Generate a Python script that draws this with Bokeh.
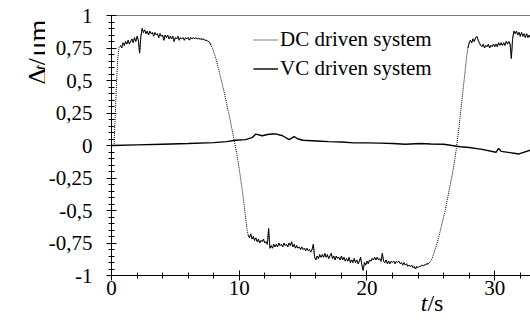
import math
from bokeh.plotting import figure
from bokeh.layouts import row
from bokeh.models import (FixedTicker, CustomJSTickFormatter, Span, LinearAxis,
                          Legend, LegendItem, Range1d, ColumnDataSource)
from bokeh.core.properties import value
from bokeh.embed import file_html
from bokeh.resources import INLINE

# ---------------- data ----------------
# DC driven system, sampled every 0.1 s from t = 0
dc_values = [
    0.0, 0.0, 0.0, 0.25, 0.50, 0.68, 0.76, 0.77, 0.75, 0.79,            # 0
    0.77, 0.80, 0.78, 0.81, 0.78, 0.80, 0.82, 0.79, 0.83, 0.80,         # 1
    0.84, 0.81, 0.71, 0.84, 0.90, 0.87, 0.89, 0.86, 0.88, 0.85,         # 2
    0.88, 0.86, 0.87, 0.84, 0.87, 0.85, 0.86, 0.83, 0.86, 0.84,         # 3
    0.85, 0.81, 0.85, 0.83, 0.85, 0.82, 0.84, 0.82, 0.84, 0.80,         # 4
    0.83, 0.82, 0.84, 0.81, 0.83, 0.82, 0.83, 0.81, 0.83, 0.82,         # 5
    0.83, 0.81, 0.83, 0.82, 0.83, 0.82, 0.83, 0.82, 0.825, 0.82,        # 6
    0.82, 0.815, 0.82, 0.81, 0.81, 0.805, 0.80, 0.79, 0.77, 0.75,       # 7
    0.72, 0.69, 0.66, 0.62, 0.58, 0.54, 0.50, 0.46, 0.42, 0.37,         # 8
    0.33, 0.28, 0.24, 0.19, 0.14, 0.09, 0.04, -0.01, -0.06, -0.12,      # 9
    -0.18, -0.25, -0.32, -0.39, -0.47, -0.56, -0.64, -0.69, -0.71, -0.68,   # 10
    -0.72, -0.70, -0.73, -0.71, -0.74, -0.72, -0.75, -0.73, -0.74, -0.72,   # 11
    -0.75, -0.74, -0.76, -0.64, -0.79, -0.77, -0.79, -0.76, -0.78, -0.76,   # 12
    -0.78, -0.75, -0.77, -0.76, -0.78, -0.75, -0.77, -0.76, -0.78, -0.75,   # 13
    -0.77, -0.74, -0.78, -0.76, -0.79, -0.77, -0.79, -0.78, -0.80, -0.78,   # 14
    -0.80, -0.79, -0.81, -0.79, -0.81, -0.80, -0.82, -0.80, -0.76, -0.86,   # 15
    -0.88, -0.85, -0.87, -0.84, -0.86, -0.84, -0.86, -0.83, -0.86, -0.84,   # 16
    -0.87, -0.85, -0.83, -0.87, -0.85, -0.88, -0.85, -0.87, -0.86, -0.88,   # 17
    -0.85, -0.88, -0.86, -0.89, -0.87, -0.89, -0.86, -0.90, -0.88, -0.90,   # 18
    -0.87, -0.90, -0.88, -0.91, -0.89, -0.86, -0.92, -0.96, -0.90, -0.92,   # 19
    -0.89, -0.91, -0.88, -0.89, -0.87, -0.88, -0.86, -0.88, -0.86, -0.88,   # 20
    -0.87, -0.89, -0.83, -0.89, -0.90, -0.88, -0.91, -0.89, -0.91, -0.89,   # 21
    -0.90, -0.89, -0.91, -0.89, -0.90, -0.89, -0.91, -0.90, -0.92, -0.90,   # 22
    -0.92, -0.91, -0.93, -0.92, -0.93, -0.92, -0.94, -0.93, -0.95, -0.93,   # 23
    -0.94, -0.93, -0.93, -0.92, -0.925, -0.92, -0.915, -0.91, -0.91, -0.90, # 24
    -0.89, -0.87, -0.84, -0.81, -0.78, -0.75, -0.71, -0.67, -0.63, -0.59,   # 25
    -0.55, -0.51, -0.46, -0.41, -0.36, -0.31, -0.26, -0.21, -0.15, -0.09,   # 26
    -0.02, 0.06, 0.14, 0.23, 0.32, 0.41, 0.50, 0.59, 0.68, 0.75,        # 27
    0.79, 0.81, 0.79, 0.82, 0.80, 0.83, 0.84, 0.81, 0.79, 0.77,         # 28
    0.76, 0.78, 0.75, 0.77, 0.76, 0.78, 0.75, 0.77, 0.76, 0.78,         # 29
    0.76, 0.78, 0.76, 0.79, 0.77, 0.79, 0.77, 0.79, 0.77, 0.80,         # 30
    0.78, 0.80, 0.78, 0.67, 0.82, 0.88, 0.86, 0.88, 0.85, 0.87,         # 31
    0.84, 0.87, 0.84, 0.86, 0.83, 0.86, 0.83, 0.85, 0.83,               # 32
]
dc_step = 0.1
dc_time = [round(i * dc_step, 1) for i in range(len(dc_values))]
# index ranges of the noisy plateaus of the DC record
dc_plateaus = [(7, 79), (107, 250), (279, 329)]

# VC driven system
vc_time = [0, 2, 4, 6, 8, 9, 9.7, 10.5, 11.0, 11.3, 11.8, 12.2, 12.6, 12.9,
           13.4, 13.9, 14.3, 14.6, 15.0, 16.4, 17, 18, 19, 20, 21, 22, 23,
           23.4, 24.2, 25, 26, 27.3, 28, 29, 30.1, 30.3, 30.5, 31.2, 31.9, 32.8]
vc_values = [0, 0.005, 0.01, 0.015, 0.022, 0.03, 0.04, 0.045, 0.06, 0.088,
             0.075, 0.085, 0.088, 0.088, 0.075, 0.045, 0.068, 0.05, 0.04,
             0.033, 0.03, 0.027, 0.02, 0.02, 0.018, 0.015, 0.01, 0.012, 0.015,
             0.012, 0.01, -0.01, -0.015, -0.03, -0.052, -0.022, -0.045,
             -0.055, -0.065, -0.035]

y_ticks = [-1, -0.75, -0.5, -0.25, 0, 0.25, 0.5, 0.75, 1]
x_ticks = [0, 10, 20, 30]
series_names = ["DC driven system", "VC driven system"]
x_title_parts = ["t", "/s"]            # "t" italic, "/s" upright
y_title_parts = ["Δ", "t", "/", "μm"]  # "t" is an italic subscript
X_MAX = 32.8

# ---------------- layout constants ----------------
SERIF = "Liberation Serif"
W, H = 530, 323
LEFT_W = 45          # strip holding the y-axis title
MAIN_W = W - LEFT_W
FRAME_LEFT = 110     # page x of the plot frame's left edge


def bare(fig):
    fig.outline_line_color = None
    fig.xgrid.grid_line_color = None
    fig.ygrid.grid_line_color = None
    fig.background_fill_color = "white"
    fig.border_fill_color = "white"
    return fig


def txt(fig, x, y, s, size, italic=False, angle=0.0, align="left"):
    fig.text(x=[x], y=[y], text=[s], angle=angle, text_font=value(SERIF),
             text_font_size=size, text_font_style="italic" if italic else "normal",
             text_color="black", text_align=align, text_baseline="alphabetic")


# ---------------- left strip: y-axis title  Δ_t/μm (reads upwards) ----------
pl = bare(figure(width=LEFT_W, height=H, output_backend="svg", title=None,
                 toolbar_location=None, x_range=Range1d(0, LEFT_W),
                 y_range=Range1d(0, H), x_axis_location=None,
                 y_axis_location=None, min_border_left=0, min_border_right=0,
                 min_border_top=0, min_border_bottom=0))
rot = math.pi / 2
txt(pl, 37, H - 86, y_title_parts[0], "26px", angle=rot)
txt(pl, 40, H - 68, y_title_parts[1], "18px", italic=True, angle=rot)
txt(pl, 37, H - 62, y_title_parts[2], "26px", angle=rot)
txt(pl, 37, H - 51, y_title_parts[3], "28px", angle=rot)

# ---------------- main figure ----------------
p = bare(figure(width=MAIN_W, height=H, output_backend="svg", title=None,
                toolbar_location=None, x_range=Range1d(0, X_MAX),
                y_range=Range1d(-1, 1), min_border_left=FRAME_LEFT - LEFT_W,
                min_border_right=0, min_border_top=15, min_border_bottom=48))

dc_src = ColumnDataSource(dict(t=dc_time, v=dc_values))
vc_src = ColumnDataSource(dict(t=vc_time, v=vc_values))
r_dc = p.line("t", "v", source=dc_src, line_color="black", line_width=1,
              line_dash="1 1")
for a, b in dc_plateaus:
    p.line(dc_time[a:b], dc_values[a:b], line_color="black", line_width=0.9)
r_vc = p.line("t", "v", source=vc_src, line_color="black", line_width=1.4)

fmt = CustomJSTickFormatter(code="return tick.toString().replace('.', ',');")
for ax in (p.xaxis[0], p.yaxis[0]):
    ax.major_tick_in = 5
    ax.major_tick_out = 5
    ax.minor_tick_in = 3
    ax.minor_tick_out = 3
    ax.axis_line_color = "black"
    ax.major_tick_line_color = "black"
    ax.minor_tick_line_color = "black"
    ax.major_label_text_font = SERIF
    ax.major_label_text_font_size = "21px"
    ax.major_label_text_color = "black"
    ax.formatter = fmt

p.yaxis[0].ticker = FixedTicker(ticks=y_ticks,
                                minor_ticks=[round(-1 + 0.05 * i, 2) for i in range(41)])
p.yaxis[0].major_label_standoff = 14
p.xaxis[0].ticker = FixedTicker(ticks=x_ticks, minor_ticks=[2 * i for i in range(17)])
p.xaxis[0].major_label_standoff = 0

# x-axis title "t/s": two label-only axes stacked under the tick axis and
# pulled back up with negative standoffs so both parts share one baseline.
PX_PER_S = (W - FRAME_LEFT) / X_MAX
title_centres = [(423.3 - FRAME_LEFT) / PX_PER_S, (434.7 - FRAME_LEFT) / PX_PER_S]
for part, centre, italic, standoff in zip(x_title_parts, title_centres,
                                          [True, False], [-8, -29]):
    tax = LinearAxis(ticker=FixedTicker(ticks=[centre], minor_ticks=[]),
                     formatter=CustomJSTickFormatter(args=dict(lbl=part),
                                                     code="return lbl;"),
                     axis_line_color=None, major_tick_line_color=None,
                     minor_tick_line_color=None, major_tick_in=0,
                     major_tick_out=0, minor_tick_in=0, minor_tick_out=0,
                     major_label_standoff=standoff,
                     major_label_text_font=SERIF,
                     major_label_text_font_size="24px",
                     major_label_text_font_style="italic" if italic else "normal",
                     major_label_text_color="black")
    p.add_layout(tax, "below")

# top frame line
p.add_layout(Span(location=1, dimension="width", line_color="black", line_width=1))

# legend
legend = Legend(items=[LegendItem(label=series_names[0], renderers=[r_dc]),
                       LegendItem(label=series_names[1], renderers=[r_vc])],
                location=(142, 192), orientation="vertical",
                label_text_font=SERIF, label_text_font_size="21px",
                label_text_color="black", glyph_width=25, glyph_height=29,
                label_height=29, label_standoff=2, spacing=0, padding=0,
                margin=0, border_line_alpha=0, background_fill_alpha=0)
p.add_layout(legend)

open("out.html", "w").write(file_html(row(pl, p), INLINE))
